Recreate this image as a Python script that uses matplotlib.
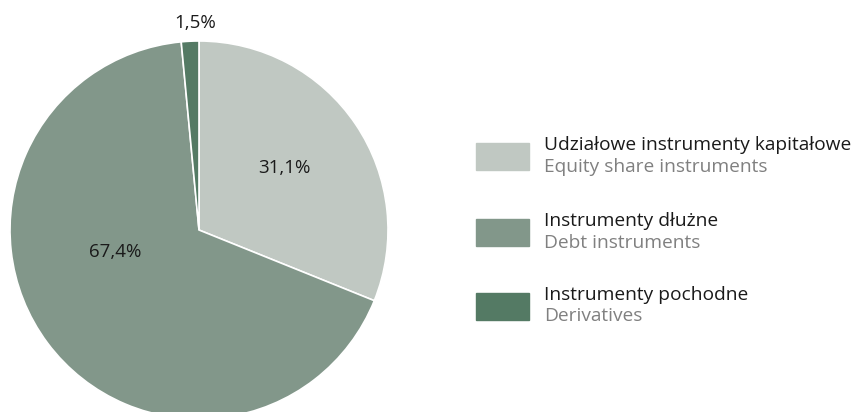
import matplotlib.pyplot as plt
import numpy as np

# --- data ---
labels_pl = ['Udziałowe instrumenty kapitałowe', 'Instrumenty dłużne', 'Instrumenty pochodne']
labels_en = ['Equity share instruments', 'Debt instruments', 'Derivatives']
shares = [31.1, 67.4, 1.5]
colors = ['#C0C8C2', '#82978A', '#547A64']

plt.rcParams['font.family'] = ['Open Sans', 'DejaVu Sans']

W, H = 856, 412
fig = plt.figure(figsize=(W / 100, H / 100), dpi=100)

# pie: centre ~(199,230) px, radius ~189 px
cx, cy, r = 199, 230, 189
ax = fig.add_axes([(cx - r) / W, (H - cy - r) / H, 2 * r / W, 2 * r / H])
wedges, _ = ax.pie(shares, colors=colors, startangle=90, counterclock=False,
                   wedgeprops=dict(edgecolor='white', linewidth=1.2))
ax.set_xlim(-1, 1)
ax.set_ylim(-1, 1)
ax.set_aspect('equal')
for w in wedges:
    w.set_clip_on(False)

# percentage labels (radial distance, angle offset from wedge middle)
label_pos = [(0.556, 2), (0.46, -22), (1.095, -1.6)]
for w, s, (dist, dang) in zip(wedges, shares, label_pos):
    mid = np.deg2rad((w.theta1 + w.theta2) / 2 + dang)
    ax.text(dist * np.cos(mid), dist * np.sin(mid), f'{s:.1f}%'.replace('.', ','),
            ha='center', va='center', fontsize=13.5, color='#1a1a1a', clip_on=False)

# legend drawn by hand
legend_y = [156.5, 232.5, 306]
for y, c, pl, en in zip(legend_y, colors, labels_pl, labels_en):
    fig.patches.append(plt.Rectangle((476 / W, (H - y - 13.5) / H), 53 / W, 27 / H,
                                     transform=fig.transFigure, color=c))
    fig.text(544 / W, (H - y + 11) / H, pl, fontsize=13.8, color='#1a1a1a', va='center')
    fig.text(544 / W, (H - y - 10) / H, en, fontsize=13.8, color='#808080', va='center')

plt.savefig('out.png', dpi=100)
